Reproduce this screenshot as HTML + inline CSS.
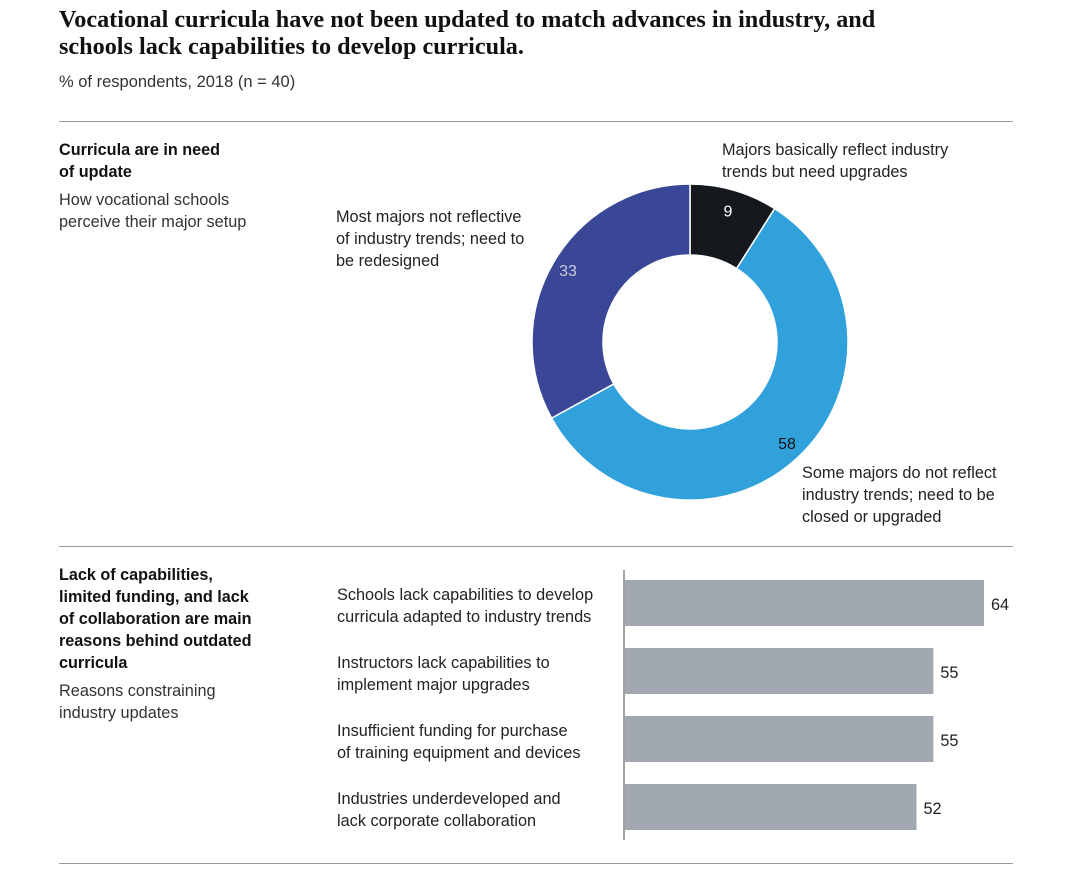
<!DOCTYPE html>
<html><head><meta charset="utf-8"><style>
body{margin:0;width:1080px;height:872px;background:#fff;position:relative;overflow:hidden;font-family:"Liberation Sans",sans-serif;color:#222}
.a{position:absolute;margin:0}
.t{font-family:"Liberation Serif",serif;font-weight:bold;font-size:24.2px;line-height:27px;left:59px;top:6px;color:#111}
.s{font-size:16.5px;color:#333}
.h{font-size:16.2px;font-weight:bold;line-height:22px;color:#111}
.r{position:absolute;left:59px;width:954px;height:1px;background:#999}
.lb{font-size:16.3px;line-height:22px;color:#222}
</style></head><body>
<div class="a t">Vocational curricula have not been updated to match advances in industry, and<br>schools lack capabilities to develop curricula.</div>
<div class="a s" style="left:59px;top:73px">% of respondents, 2018 (n = 40)</div>
<div class="r" style="top:121px"></div>
<div class="r" style="top:546px"></div>
<div class="r" style="top:863px"></div>

<div class="a h" style="left:59px;top:139px">Curricula are in need<br>of update</div>
<div class="a lb" style="left:59px;top:189px;color:#333">How vocational schools<br>perceive their major setup</div>
<div class="a lb" style="left:336px;top:206px">Most majors not reflective<br>of industry trends; need to<br>be redesigned</div>
<div class="a lb" style="left:722px;top:139px">Majors basically reflect industry<br>trends but need upgrades</div>
<div class="a lb" style="left:802px;top:462px">Some majors do not reflect<br>industry trends; need to be<br>closed or upgraded</div>

<div class="a h" style="left:59px;top:564px">Lack of capabilities,<br>limited funding, and lack<br>of collaboration are main<br>reasons behind outdated<br>curricula</div>
<div class="a lb" style="left:59px;top:680px;color:#333">Reasons constraining<br>industry updates</div>

<svg class="a" style="left:0;top:0" width="1080" height="872" id="chart"></svg>
<script>
const donutCats=["upgrades","closed","redesign"];
const donutVals=[9,58,33];
const donutColors=["#15191d","#31a1dc","#3a4696"];
const barCats=[["Schools lack capabilities to develop","curricula adapted to industry trends"],["Instructors lack capabilities to","implement major upgrades"],["Insufficient funding for purchase","of training equipment and devices"],["Industries underdeveloped and","lack corporate collaboration"]];
const barVals=[64,55,55,52];
const NS="http://www.w3.org/2000/svg";
const svg=document.getElementById('chart');
function mk(t,a){const e=document.createElementNS(NS,t);for(const k in a)e.setAttribute(k,a[k]);svg.appendChild(e);return e;}
const cx=690,cy=342,R=158,r=87;
const total=donutVals.reduce((a,b)=>a+b,0);
let acc=0;
function pt(ang,rad){return [cx+rad*Math.sin(ang),cy-rad*Math.cos(ang)];}
donutVals.forEach((v,i)=>{
 const a0=acc/total*2*Math.PI;acc+=v;const a1=acc/total*2*Math.PI;
 const big=(a1-a0)>Math.PI?1:0;
 const [x0,y0]=pt(a0,R),[x1,y1]=pt(a1,R),[x2,y2]=pt(a1,r),[x3,y3]=pt(a0,r);
 const p=mk('path',{d:`M${x0},${y0}A${R},${R} 0 ${big} 1 ${x1},${y1}L${x2},${y2}A${r},${r} 0 ${big} 0 ${x3},${y3}Z`,fill:donutColors[i],stroke:'#fff','stroke-width':1.5});
 
 
 const mid=(a0+a1)/2;
 let lp;
 if(i===0) lp=pt(mid,R-22); else if(i===1) lp=[cx+97,cy+102]; else lp=[cx-122,cy-71];
 const t=mk('text',{x:lp[0],y:lp[1]+5,'text-anchor':'middle','font-size':16,fill:i===1?'#111':(i===2?'#c8cce0':'#fff'),'font-family':'Liberation Sans, sans-serif'});
 t.textContent=donutVals[i];
 
 
});
const x0=624,scale=5.625,barTop=580,barH=46,step=68;
const ax=mk('line',{x1:x0,y1:570,x2:x0,y2:840,stroke:'#444','stroke-width':1});


barVals.forEach((v,i)=>{
 const y=barTop+i*step;
 const b=mk('rect',{x:x0+1,y:y,width:v*scale-1,height:barH,fill:'#a1a8b0'});
 
 
 const vt=mk('text',{x:x0+v*scale+7,y:y+30,'font-size':16.3,fill:'#222','font-family':'Liberation Sans, sans-serif'});
 vt.textContent=v;
 
 
 barCats[i].forEach((line,j)=>{
  const ct=mk('text',{x:337,y:y+20+j*22,'font-size':16.3,fill:'#222','font-family':'Liberation Sans, sans-serif'});
  ct.textContent=line;
  
  
 });
});
</script>
</body></html>
